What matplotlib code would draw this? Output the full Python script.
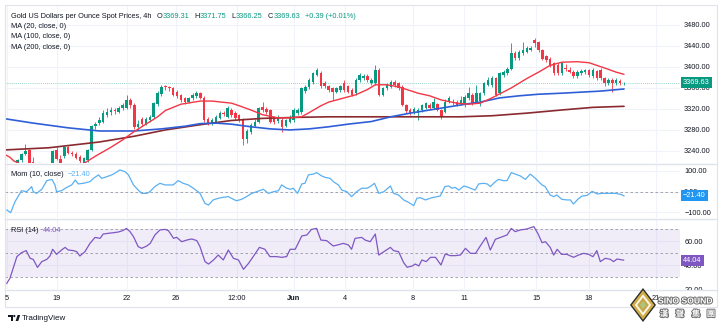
import matplotlib
matplotlib.use("Agg")
import matplotlib.pyplot as plt
import matplotlib.patheffects as pe
from matplotlib import transforms
from matplotlib.lines import Line2D
from matplotlib.patches import Ellipse, Polygon, Rectangle
import numpy as np

plt.rcParams["font.family"] = ["Liberation Sans", "DejaVu Sans"]

GREEN = "#089981"
RED = "#f23645"
TEXT = "#131722"
GRID = "#f0f3fa"
BORDER = "#e0e3eb"
MOM_BLUE = "#5ab0f2"
RSI_PURPLE = "#7e57c2"

# 4h candles, oldest first
opens = [3205, 3208, 3204, 3212, 3222, 3234, 3241, 3218, 3205, 3198,
         3203, 3200, 3212, 3242, 3225, 3230, 3247, 3236, 3235, 3228,
         3217, 3222, 3242, 3287, 3293, 3296, 3309, 3315, 3318, 3315,
         3321, 3322, 3337, 3328, 3286, 3300, 3292, 3299, 3305, 3330,
         3348, 3364, 3362, 3359, 3353, 3346, 3340, 3334, 3340, 3344,
         3350, 3341, 3301, 3293, 3296, 3303, 3312, 3305, 3318, 3312,
         3308, 3299, 3262, 3277, 3288, 3296, 3324, 3320, 3318, 3304,
         3297, 3299, 3288, 3296, 3299, 3312, 3314, 3354, 3362, 3372,
         3385, 3389, 3369, 3363, 3359, 3353, 3356, 3369, 3363, 3356,
         3350, 3375, 3378, 3382, 3369, 3369, 3394, 3347, 3359, 3362,
         3372, 3369, 3362, 3328, 3318, 3313, 3312, 3318, 3322, 3328,
         3322, 3330, 3318, 3315, 3334, 3331, 3334, 3331, 3327, 3340,
         3347, 3334, 3335, 3350, 3366, 3366, 3378, 3350, 3384, 3388,
         3397, 3426, 3417, 3426, 3429, 3433, 3452, 3448, 3432, 3420,
         3416, 3407, 3404, 3388, 3398, 3394, 3391, 3382, 3388, 3391,
         3394, 3383, 3392, 3395, 3378, 3369, 3375, 3369, 3374, 3369.31]
highs = [3212, 3214, 3215, 3225, 3237, 3254, 3244, 3229, 3210, 3208,
         3210, 3214, 3241, 3248, 3232, 3250, 3250, 3240, 3238, 3232,
         3228, 3244, 3290, 3296, 3305, 3318, 3322, 3324, 3322, 3326,
         3332, 3347, 3340, 3331, 3298, 3304, 3304, 3308, 3333, 3354,
         3366, 3366, 3364, 3361, 3356, 3349, 3343, 3343, 3350, 3354,
         3353, 3344, 3305, 3302, 3308, 3316, 3316, 3326, 3322, 3316,
         3311, 3302, 3282, 3293, 3300, 3324, 3334, 3324, 3320, 3307,
         3308, 3302, 3301, 3309, 3321, 3322, 3362, 3366, 3379, 3391,
         3398, 3392, 3373, 3366, 3362, 3362, 3366, 3375, 3366, 3359,
         3378, 3388, 3386, 3386, 3378, 3404, 3398, 3362, 3369, 3376,
         3376, 3372, 3365, 3330, 3322, 3324, 3321, 3330, 3334, 3332,
         3340, 3332, 3320, 3338, 3344, 3338, 3337, 3344, 3346, 3362,
         3350, 3366, 3353, 3372, 3380, 3382, 3381, 3391, 3394, 3400,
         3445, 3430, 3432, 3448, 3440, 3440, 3455, 3450, 3435, 3423,
         3419, 3410, 3407, 3410, 3405, 3400, 3394, 3395, 3396, 3397,
         3397, 3398, 3395, 3398, 3380, 3379, 3378, 3378, 3377, 3371.75]
lows = [3198, 3200, 3202, 3210, 3219, 3232, 3214, 3200, 3192, 3190,
        3195, 3198, 3208, 3222, 3214, 3226, 3234, 3230, 3224, 3216,
        3214, 3219, 3240, 3282, 3290, 3294, 3305, 3308, 3310, 3312,
        3318, 3320, 3322, 3282, 3280, 3288, 3289, 3296, 3302, 3326,
        3345, 3357, 3355, 3344, 3340, 3333, 3330, 3331, 3337, 3341,
        3338, 3296, 3289, 3289, 3293, 3300, 3306, 3302, 3305, 3299,
        3296, 3251, 3256, 3273, 3285, 3293, 3315, 3311, 3293, 3292,
        3294, 3277, 3285, 3293, 3296, 3309, 3311, 3351, 3358, 3368,
        3382, 3360, 3359, 3352, 3337, 3350, 3353, 3353, 3350, 3344,
        3346, 3372, 3375, 3372, 3366, 3366, 3344, 3344, 3356, 3359,
        3362, 3356, 3325, 3312, 3309, 3310, 3299, 3315, 3319, 3319,
        3319, 3316, 3300, 3312, 3331, 3328, 3325, 3328, 3324, 3337,
        3328, 3331, 3325, 3347, 3363, 3362, 3344, 3347, 3381, 3385,
        3394, 3413, 3414, 3423, 3426, 3430, 3438, 3429, 3413, 3410,
        3400, 3385, 3384, 3385, 3392, 3388, 3378, 3379, 3384, 3387,
        3381, 3378, 3376, 3375, 3364, 3366, 3353, 3366, 3365, 3366.25]
closes = [3208, 3204, 3212, 3223, 3235, 3240, 3217, 3205, 3198, 3203,
          3200, 3212, 3239, 3225, 3217, 3247, 3236, 3234, 3226, 3220,
          3226, 3242, 3287, 3291, 3299, 3312, 3315, 3318, 3316, 3321,
          3328, 3337, 3328, 3286, 3292, 3292, 3301, 3305, 3331, 3350,
          3362, 3361, 3359, 3347, 3344, 3337, 3334, 3340, 3347, 3350,
          3341, 3299, 3293, 3299, 3305, 3312, 3310, 3321, 3308, 3302,
          3299, 3262, 3278, 3290, 3296, 3321, 3318, 3315, 3296, 3296,
          3305, 3286, 3298, 3305, 3318, 3318, 3359, 3362, 3376, 3388,
          3394, 3363, 3363, 3356, 3353, 3359, 3363, 3356, 3353, 3347,
          3375, 3385, 3382, 3376, 3375, 3394, 3347, 3359, 3366, 3372,
          3366, 3360, 3328, 3316, 3313, 3320, 3318, 3327, 3331, 3322,
          3334, 3318, 3307, 3334, 3340, 3334, 3328, 3337, 3343, 3350,
          3331, 3350, 3350, 3369, 3375, 3378, 3347, 3388, 3390, 3397,
          3426, 3417, 3429, 3432, 3436, 3436, 3446, 3432, 3416, 3413,
          3404, 3388, 3388, 3407, 3396, 3391, 3382, 3391, 3393, 3394,
          3385, 3394, 3379, 3378, 3369, 3375, 3369, 3375, 3369, 3369.63]
change = "+0.39 (+0.01%)"

# moving averages as (bar, value)
ma20 = [(0, 3232), (1, 3228), (2, 3221), (4, 3214), (6, 3208), (10, 3204),
        (14, 3205), (18, 3210), (20, 3216), (23, 3230), (27, 3247), (30, 3261),
        (33, 3277), (36, 3291), (39, 3305), (41, 3317), (45, 3329), (50, 3335),
        (53, 3335), (58, 3331), (60, 3326), (63, 3318), (66, 3309), (70, 3303),
        (73, 3303), (76, 3305), (78, 3313), (81, 3326), (83, 3333), (87, 3341),
        (90, 3347), (93, 3357), (95, 3366), (98, 3366), (101, 3362), (106, 3350),
        (109, 3345), (112, 3337), (116, 3331), (119, 3329), (122, 3331), (125, 3341),
        (130, 3360), (134, 3378), (137, 3390), (140, 3403), (143, 3409), (147, 3410),
        (150, 3408), (154, 3398), (157, 3390), (159, 3386)]
ma100 = [(0, 3301), (7, 3293), (16, 3284), (24, 3278), (33, 3278), (40, 3282),
         (46, 3287), (50, 3292), (54, 3293), (58, 3291), (63, 3286), (68, 3282),
         (73, 3280), (78, 3282), (83, 3286), (88, 3291), (94, 3296), (99, 3305),
         (104, 3312), (109, 3318), (114, 3324), (119, 3330), (122, 3333), (127, 3341),
         (132, 3345), (137, 3348), (143, 3350), (148, 3352), (153, 3354), (159, 3358)]
ma200 = [(0, 3242), (11, 3246), (24, 3257), (33, 3268), (41, 3280), (50, 3290),
         (58, 3298), (66, 3302), (75, 3304), (83, 3305), (92, 3305), (101, 3305),
         (109, 3305), (117, 3305), (125, 3307), (134, 3312), (143, 3318), (151, 3323),
         (159, 3325)]

momentum = [(0.2, -90), (1.2, -103), (2.3, -50), (4.0, 4), (5.3, -1), (6.6, 24),
            (7.0, -1), (7.9, -9), (9.2, 11), (10.5, 53), (11.8, 59), (12.6, 32),
            (13.0, -1), (14.3, 4), (15.6, 20), (16.9, 32), (17.8, 56), (18.6, 37),
            (19.9, 40), (21.6, 48), (22.5, 64), (23.8, 81), (24.6, 64), (25.9, 72),
            (27.2, 81), (28.0, 89), (29.3, 105), (30.6, 97), (31.5, 81), (32.8, 32),
            (34.0, 7), (34.9, -9), (36.2, -9), (37.0, -1), (38.3, 24), (39.6, 40),
            (40.9, 32), (42.2, 32), (43.0, 32), (44.3, 53), (45.6, 40), (46.9, 32),
            (48.2, 16), (49.9, -9), (51.2, -58), (52.1, -66), (53.3, -41), (54.6, -33),
            (55.9, -28), (57.2, -25), (58.5, -38), (59.3, -45), (60.6, -38), (61.9, -25),
            (63.2, -9), (64.5, -1), (66.2, 11), (67.5, -9), (68.8, -1), (70.1, 4),
            (70.9, 32), (72.2, 16), (73.1, 11), (73.9, 16), (75.0, -9), (76.1, 37),
            (76.9, 40), (77.8, 81), (79.1, 85), (79.9, 92), (81.2, 76), (82.1, 69),
            (83.4, 64), (84.2, 48), (85.5, 32), (86.4, 7), (87.7, -1), (88.9, -25),
            (90.2, -1), (91.5, 16), (92.9, 16), (93.7, 24), (94.8, 40), (95.9, -9),
            (97.2, -1), (98.9, 27), (99.7, -9), (101.0, -17), (102.3, -41), (103.6, -53),
            (104.9, -69), (105.7, -33), (106.6, -30), (107.9, -41), (109.6, -30),
            (110.9, -25), (111.7, -22), (112.9, 24), (113.9, 27), (114.7, 16),
            (115.6, 20), (116.5, 7), (117.8, 27), (119.0, 20), (120.7, 7), (121.6, 37),
            (122.9, 40), (123.8, 37), (124.6, 24), (125.9, 48), (126.7, 59), (128.0, 53),
            (128.9, 53), (130.0, 92), (131.0, 85), (132.3, 76), (133.6, 59), (134.9, 85),
            (136.2, 64), (137.9, 32), (138.7, 24), (140.0, -17), (140.9, -25),
            (141.7, -17), (143.0, -38), (144.3, -41), (145.2, -41), (146.0, -61),
            (147.1, -38), (148.2, -22), (149.5, -19), (150.8, 1), (152.1, -12),
            (153.4, -9), (155.1, -9), (156.8, -9), (158.2, -14), (159.0, -21.40)]

rsi = [(0.2, 24.7), (1.0, 28.9), (1.7, 35.8), (2.8, 47), (4.0, 50.3), (5.2, 52),
       (6.2, 45.6), (7.0, 44.7), (8.1, 38), (9.2, 42.8), (10.5, 44.7), (11.3, 47.5),
       (12.0, 53.1), (13.0, 48.9), (14.3, 52.5), (15.2, 54.7), (16.0, 52.5), (17.3, 52),
       (18.2, 51.1), (19.0, 47.5), (20.3, 51.1), (21.6, 58), (22.9, 63), (24.2, 62.2),
       (25.0, 65.8), (26.3, 66.4), (27.6, 66.9), (28.9, 67.5), (30.0, 68.6), (31.0, 70.5),
       (31.9, 67.8), (32.8, 63.6), (34.0, 55.3), (34.9, 53.9), (36.2, 55.8), (37.1, 58),
       (38.3, 65), (39.6, 69.2), (40.9, 69.7), (41.8, 68.6), (43.1, 62.2), (43.9, 63.1),
       (45.2, 59.4), (46.5, 60.8), (47.8, 61.7), (49.1, 60.3), (49.9, 55.3), (51.2, 42.8),
       (52.1, 40.8), (53.4, 44.2), (54.6, 48.3), (55.9, 44.2), (57.2, 52.5), (58.5, 45.6),
       (59.8, 44.2), (61.1, 36.4), (62.4, 41.4), (63.6, 47), (65.2, 54.7), (66.6, 53.1),
       (67.9, 47), (69.6, 47), (70.9, 46.4), (72.2, 47), (73.1, 53.1), (74.4, 53.1),
       (76.1, 64.2), (77.4, 65), (78.6, 69.7), (79.9, 70.5), (81.0, 60.8), (82.5, 60.3),
       (84.2, 55.8), (85.5, 56.9), (86.8, 58), (88.1, 56.7), (88.9, 53.1), (89.8, 62.2),
       (91.5, 63), (92.4, 60.8), (93.7, 59.4), (95.0, 65.8), (95.9, 48.3), (97.2, 51.1),
       (98.9, 54.7), (99.7, 52), (101.0, 51.1), (102.3, 42), (103.2, 38.1), (104.5, 39.2),
       (105.3, 40.8), (106.2, 39.2), (107.0, 44.2), (108.1, 42.8), (109.2, 46.4),
       (110.5, 46.4), (111.9, 40), (113.0, 49.2), (114.3, 47.8), (115.6, 47.8),
       (116.9, 48.3), (118.2, 53.9), (119.5, 49.7), (120.8, 49.7), (122.0, 55.8),
       (123.5, 63), (124.6, 52.5), (125.9, 61.4), (127.2, 63), (128.9, 65), (130.0, 70.5),
       (131.0, 67.8), (132.3, 69.2), (134.0, 70), (135.8, 72), (136.9, 65.8), (137.9, 58.6),
       (138.8, 59.4), (140.0, 54.7), (140.9, 48.3), (141.8, 53.1), (142.9, 48.9),
       (144.3, 48.9), (146.0, 46.4), (147.3, 48.3), (148.6, 49.7), (149.9, 48.9),
       (151.0, 46.9), (152.0, 52), (152.9, 42.8), (154.2, 45.6), (155.5, 44.7),
       (156.3, 42.8), (157.2, 45), (158.9, 44.04)]

date_ticks = [0.3, 13.1, 31.1, 43.7, 59.4, 74.1, 87.2, 104.7, 117.8, 136.4, 150.0, 167.2]
date_labels = ["5", "19", "22", "26", "12:00", "Jun", "4", "8", "11", "15", "18", "21"]

price_ticks = [3240, 3280, 3320, 3360, 3400, 3440, 3480]
mom_ticks = [100, 0, -100]
rsi_ticks = [60, 40, 20]
rsi_levels = [70, 50, 30]

W, H = 724, 329
FS = 5.3


def fig_box(x0, y0, x1, y1):
    return [x0 / W, 1 - y1 / H, (x1 - x0) / W, (y1 - y0) / H]


def fig_xy(x, y):
    return x / W, 1 - y / H


def fmt(v):
    return f"{v:.2f}".replace("-", "\u2212")


def style_pane(axis, ticks):
    for spine in axis.spines.values():
        spine.set_visible(False)
    axis.yaxis.tick_right()
    axis.set_yticks(ticks)
    axis.set_yticklabels([fmt(t) for t in ticks])
    axis.tick_params(axis="y", length=0, pad=3, labelsize=FS, labelcolor=TEXT)
    axis.tick_params(axis="x", length=0, labelbottom=False)
    axis.set_xticks(date_ticks)
    axis.grid(True, color=GRID, lw=0.8, zorder=0)
    axis.set_axisbelow(True)


def value_box(axis, value, text, color):
    tr = transforms.blended_transform_factory(axis.transAxes, axis.transData)
    axis.text(1.0 + 3 / 675, value, text, transform=tr, ha="left", va="center",
              fontsize=FS, color="white", clip_on=False, zorder=8,
              bbox=dict(boxstyle="square,pad=0.28", fc=color, ec="none"))


def text_row(x, y, pieces):
    # lay out pieces left to right, each starting after the previous one ends
    renderer = fig.canvas.get_renderer()
    for gap, s, color in pieces:
        x += gap
        t = fig.text(*fig_xy(x, y), s, fontsize=FS, color=color, va="center")
        x = t.get_window_extent(renderer).x1


fig = plt.figure(figsize=(W / 100, H / 100), dpi=100)
ax = fig.add_axes(fig_box(5, 5, 680, 163))
ax_mom = fig.add_axes(fig_box(5, 164, 680, 218), sharex=ax)
ax_rsi = fig.add_axes(fig_box(5, 220, 680, 289), sharex=ax)

# price pane
o, h, l, c = map(np.array, (opens, highs, lows, closes))
idx = np.arange(len(c))
colors = np.where(c >= o, GREEN, RED)
ax.vlines(idx, l, h, colors=colors, lw=0.6, zorder=2)
ax.bar(idx, np.maximum(np.abs(c - o), 0.8), bottom=np.minimum(o, c), width=0.64,
       color=colors, lw=0, zorder=3)
for series, color, lw in ((ma200, "#8a2a2e", 1.2), (ma100, "#2f5ed8", 1.2), (ma20, RED, 1.0)):
    xs, ys = zip(*series)
    ax.plot(xs, ys, color=color, lw=lw, zorder=4, solid_capstyle="round")
ax.axhline(c[-1], color=GREEN, lw=0.6, ls=(0, (1, 1.5)), alpha=0.55, zorder=1)
ax.set_xlim(-0.26, 173.4)
ax.set_ylim(3217, 3518)
style_pane(ax, price_ticks)
value_box(ax, c[-1], fmt(c[-1]), GREEN)

# momentum pane
xs, ys = zip(*momentum)
ax_mom.plot(xs, ys, color=MOM_BLUE, lw=0.9, zorder=3)
ax_mom.axhline(0, color="#9598a1", lw=0.6, ls=(0, (3, 3)), zorder=2)
ax_mom.set_ylim(-129, 134)
style_pane(ax_mom, mom_ticks)
value_box(ax_mom, ys[-1], fmt(ys[-1]), "#2196f3")

# RSI pane
ax_rsi.axhspan(30, 70, color=RSI_PURPLE, alpha=0.1, lw=0, zorder=1)
for level in rsi_levels:
    ax_rsi.axhline(level, color="#9598a1", lw=0.6, ls=(0, (3, 3)), zorder=2)
xs, ys = zip(*rsi)
ax_rsi.plot(xs, ys, color=RSI_PURPLE, lw=0.9, zorder=3)
ax_rsi.set_ylim(20, 77.5)
style_pane(ax_rsi, rsi_ticks)
value_box(ax_rsi, ys[-1], fmt(ys[-1]), RSI_PURPLE)

# time axis strip, pane separators and outer frame
fig.patches.append(Rectangle(fig_xy(5, 306.5), 712 / W, 17 / H, transform=fig.transFigure,
                             fc="white", ec="none", zorder=1))
for y in (163.5, 219, 289.5):
    fig.lines.append(Line2D([5 / W, 717 / W], [1 - y / H] * 2, transform=fig.transFigure,
                            color=BORDER, lw=1.0, zorder=2))
fig.patches.append(Rectangle(fig_xy(5, 306.5), 712 / W, 301.5 / H, transform=fig.transFigure,
                             fc="none", ec=BORDER, lw=0.8, zorder=2))

date_tr = transforms.blended_transform_factory(ax_rsi.transData, fig.transFigure)
for pos, label in zip(date_ticks, date_labels):
    fig.text(pos, 1 - 298 / H, label, transform=date_tr, ha="center", va="center",
             fontsize=FS, color=TEXT, fontweight="bold" if label == "Jun" else "normal")

# legends written inside the panes
text_row(11, 16, [(0, "Gold US Dollars per Ounce Spot Prices, 4h", TEXT),
                  (5, "O", TEXT), (0.3, fmt(opens[-1]), GREEN),
                  (5, "H", TEXT), (0.3, fmt(highs[-1]), GREEN),
                  (5, "L", TEXT), (0.3, fmt(lows[-1]), GREEN),
                  (5, "C", TEXT), (0.3, fmt(closes[-1]), GREEN),
                  (5, change, GREEN)])
for y, label in ((26, "MA (20, close, 0)"), (36.5, "MA (100, close, 0)"), (47.5, "MA (200, close, 0)")):
    fig.text(*fig_xy(11, y), label, fontsize=FS, color=TEXT, va="center")
text_row(11, 174, [(0, "Mom (10, close)", TEXT), (4, fmt(momentum[-1][1]), MOM_BLUE)])
text_row(11, 230.5, [(0, "RSI (14)", TEXT), (4, fmt(rsi[-1][1]), RSI_PURPLE)])

# TradingView mark
tv = "#131722"
fig.patches.append(Polygon([fig_xy(*p) for p in ((8, 315), (12.8, 315), (12.8, 321), (10.8, 321),
                                                 (10.8, 317), (8, 317))],
                           closed=True, transform=fig.transFigure, fc=tv, ec="none", zorder=3))
fig.patches.append(Ellipse(fig_xy(14.3, 316), 2.2 / W, 2.2 / H, transform=fig.transFigure,
                           fc=tv, ec="none", zorder=3))
fig.patches.append(Polygon([fig_xy(*p) for p in ((15.6, 321), (17.6, 315), (20.2, 315), (18.2, 321))],
                           closed=True, transform=fig.transFigure, fc=tv, ec="none", zorder=3))
fig.text(*fig_xy(22, 318), "TradingView", fontsize=5.8, color=TEXT, va="center")

# SINO SOUND watermark
cx, cy = 643, 305
for hw, hh, color in ((13, 17, "#2b2b2b"), (11.3, 14.8, "#d1ad48"), (8.2, 10.7, "#fbf6e6"),
                      (5.8, 7.6, "#c9a64a"), (3.0, 4.0, "#a9c77f")):
    fig.patches.append(Polygon([fig_xy(cx, cy - hh), fig_xy(cx + hw, cy), fig_xy(cx, cy + hh),
                                fig_xy(cx - hw, cy)], closed=True, transform=fig.transFigure,
                               fc=color, ec="none", zorder=4))
outline = [pe.Stroke(linewidth=1.4, foreground="#6e6e6e"), pe.Normal()]
fig.text(*fig_xy(658, 301), "SINO SOUND", fontsize=6.2, fontweight="bold", color="white",
         va="center", zorder=5, path_effects=outline)
for x, ch in zip((664, 680, 696, 711), "漢聲集團"):
    fig.text(*fig_xy(x, 314), ch, fontsize=6.0, fontweight="bold", color="white", ha="center",
             va="center", zorder=5, family=["Noto Sans CJK TC", "DejaVu Sans"],
             path_effects=outline)

fig.savefig("out.png", dpi=100, facecolor="white")
